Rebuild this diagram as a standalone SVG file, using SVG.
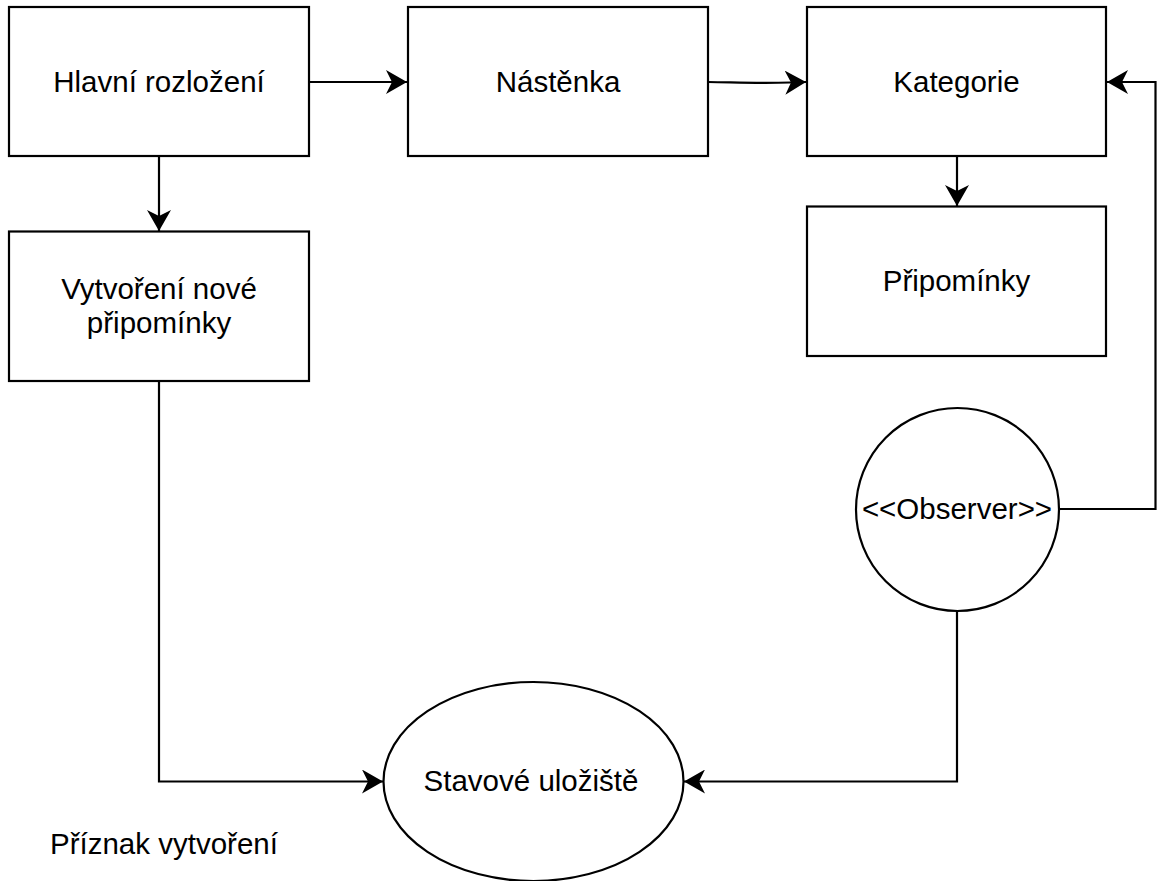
<svg xmlns="http://www.w3.org/2000/svg" width="1158" height="881" viewBox="0 0 1158 881">
  <style>
    .shape { fill: #ffffff; stroke: #000000; stroke-width: 2.2; }
    .edge { fill: none; stroke: #000000; stroke-width: 2.2; }
    .label { font-family: "Liberation Sans", Arial, sans-serif; font-size: 29.5px; fill: #000000; text-anchor: middle; }
    .free { font-family: "Liberation Sans", Arial, sans-serif; font-size: 29.5px; fill: #000000; }
  </style>
  <defs>
    <marker id="arrow" markerUnits="userSpaceOnUse" viewBox="0 0 21 24" refX="21" refY="12" markerWidth="21" markerHeight="24" orient="auto">
      <path d="M21,12 L0,0 L6,12 L0,24 Z" fill="#000000"/>
    </marker>
  </defs>
  <rect width="1158" height="881" fill="#ffffff"/>

  <g id="connectors">
    <path class="edge" d="M309,82 H407" marker-end="url(#arrow)"/>
    <path class="edge" d="M708,82 C740,82.5 760,83.5 790,82.5 L806,82" marker-end="url(#arrow)"/>
    <path class="edge" d="M159,156 V231" marker-end="url(#arrow)"/>
    <path class="edge" d="M957,156 V206" marker-end="url(#arrow)"/>
    <path class="edge" d="M1059,509 H1155.5 V82 H1107" marker-end="url(#arrow)"/>
    <path class="edge" d="M159,381 V781.5 H383" marker-end="url(#arrow)"/>
    <path class="edge" d="M957,611 V781.5 H684" marker-end="url(#arrow)"/>
  </g>

  <g id="hlavni-rozlozeni">
    <rect class="shape" x="9" y="7" width="300" height="149"/>
    <text class="label" x="159" y="91.5">Hlavní rozložení</text>
  </g>

  <g id="nastenka">
    <rect class="shape" x="408" y="7" width="300" height="149"/>
    <text class="label" x="558" y="91.5">Nástěnka</text>
  </g>

  <g id="kategorie">
    <rect class="shape" x="807" y="7" width="299" height="149"/>
    <text class="label" x="956.5" y="91.5">Kategorie</text>
  </g>

  <g id="pripominky">
    <rect class="shape" x="807" y="206.5" width="299" height="149.5"/>
    <text class="label" x="956.5" y="291">Připomínky</text>
  </g>

  <g id="vytvoreni-nove-pripominky">
    <rect class="shape" x="9" y="231.5" width="300" height="149.5"/>
    <text class="label" x="159" y="298.5">Vytvoření nové</text>
    <text class="label" x="159" y="332.5">připomínky</text>
  </g>

  <g id="observer">
    <circle class="shape" cx="957.5" cy="509.5" r="101.5"/>
    <text class="label" x="957" y="518.5">&lt;&lt;Observer&gt;&gt;</text>
  </g>

  <g id="stavove-uloziste">
    <ellipse class="shape" cx="533.5" cy="781.5" rx="150" ry="99.5"/>
    <text class="label" x="531" y="790.5">Stavové uložiště</text>
  </g>

  <g id="priznak-vytvoreni">
    <text class="free" x="50" y="853.5">Příznak vytvoření</text>
  </g>
</svg>
